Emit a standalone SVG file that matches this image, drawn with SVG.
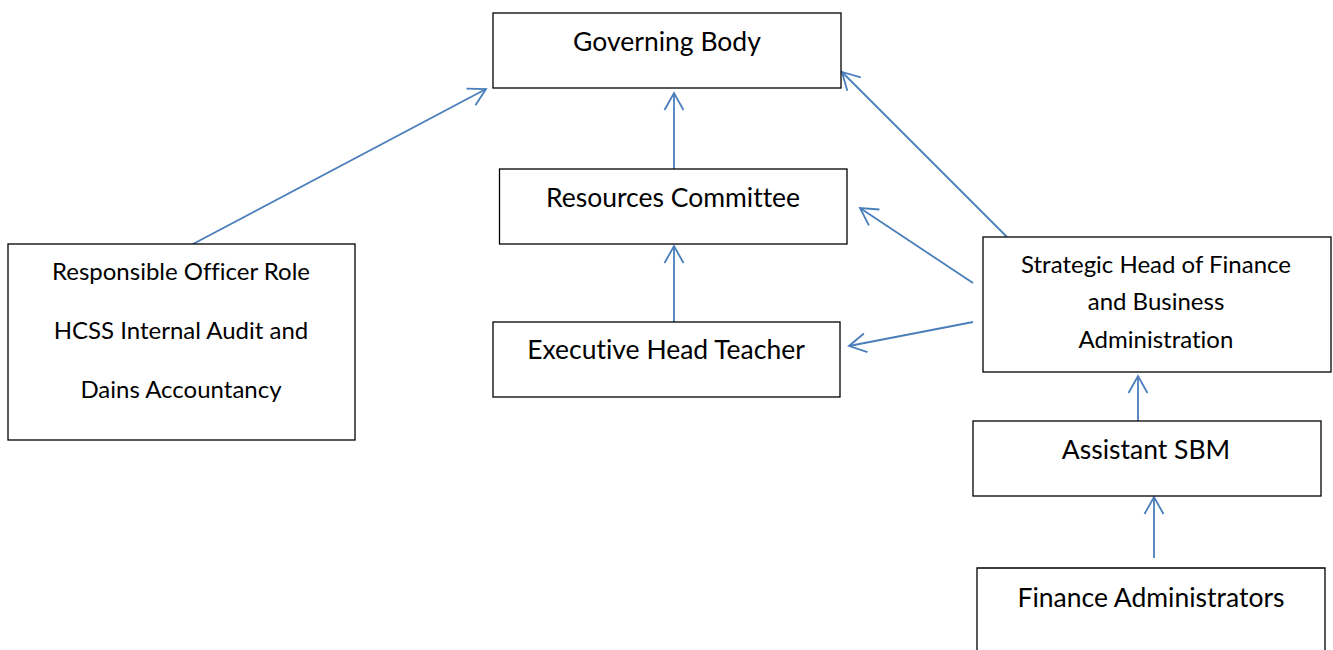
<svg xmlns="http://www.w3.org/2000/svg" width="1333" height="650" viewBox="0 0 1333 650">
<style>
.box{fill:#fff;stroke:#000;stroke-width:1.3}
.t{font-family:Lato,"Open Sans","Liberation Sans",sans-serif;fill:#000;text-anchor:middle;font-variant-ligatures:none;font-feature-settings:"liga" 0,"dlig" 0}
.big{font-size:26.5px}
.sm{font-size:24px}
.c{stroke:#4a7ebb;stroke-width:1.8;fill:none}
</style>
<defs>
<marker id="ah" viewBox="0 0 20 22" refX="18" refY="11" markerWidth="20" markerHeight="22" markerUnits="userSpaceOnUse" orient="auto">
<path d="M1,1.5 L18,11 L1,20.5" fill="none" stroke="#4a7ebb" stroke-width="1.8"/>
</marker>
</defs>
<rect width="1333" height="650" fill="#fff"/>
<g id="connectors">
<line class="c" x1="193" y1="244" x2="486" y2="89" marker-end="url(#ah)"/>
<line class="c" x1="674" y1="169" x2="674" y2="93" marker-end="url(#ah)"/>
<line class="c" x1="1007" y1="237" x2="842" y2="72" marker-end="url(#ah)"/>
<line class="c" x1="973" y1="283" x2="860" y2="208" marker-end="url(#ah)"/>
<line class="c" x1="973" y1="322" x2="849" y2="346" marker-end="url(#ah)"/>
<line class="c" x1="674" y1="322" x2="674" y2="246" marker-end="url(#ah)"/>
<line class="c" x1="1138" y1="424" x2="1138" y2="376" marker-end="url(#ah)"/>
<line class="c" x1="1154" y1="558" x2="1154" y2="497" marker-end="url(#ah)"/>
</g>
<g id="governing-body">
<rect class="box" x="493" y="13" width="348" height="75"/>
<text class="t big" x="667" y="51">Governing Body</text>
</g>
<g id="resources-committee">
<rect class="box" x="499.5" y="169" width="347.5" height="75"/>
<text class="t big" x="673" y="207">Resources Committee</text>
</g>
<g id="executive-head-teacher">
<rect class="box" x="493" y="322" width="347" height="75"/>
<text class="t big" x="666" y="359">Executive Head Teacher</text>
</g>
<g id="responsible-officer">
<rect class="box" x="8" y="244" width="347" height="196"/>
<text class="t sm" x="181" y="280">Responsible Officer Role</text>
<text class="t sm" x="181" y="339">HCSS Internal Audit and</text>
<text class="t sm" x="181" y="398">Dains Accountancy</text>
</g>
<g id="strategic-head">
<rect class="box" x="983" y="237" width="348" height="135"/>
<text class="t sm" x="1156" y="273">Strategic Head of Finance</text>
<text class="t sm" x="1156" y="310">and Business</text>
<text class="t sm" x="1156" y="348">Administration</text>
</g>
<g id="assistant-sbm">
<rect class="box" x="973" y="421" width="348" height="75"/>
<text class="t big" x="1146" y="459">Assistant SBM</text>
</g>
<g id="finance-administrators">
<path class="box" d="M977,660 L977,568 L1325,568 L1325,660"/>
<text class="t big" x="1151" y="607">Finance Administrators</text>
</g>
</svg>
